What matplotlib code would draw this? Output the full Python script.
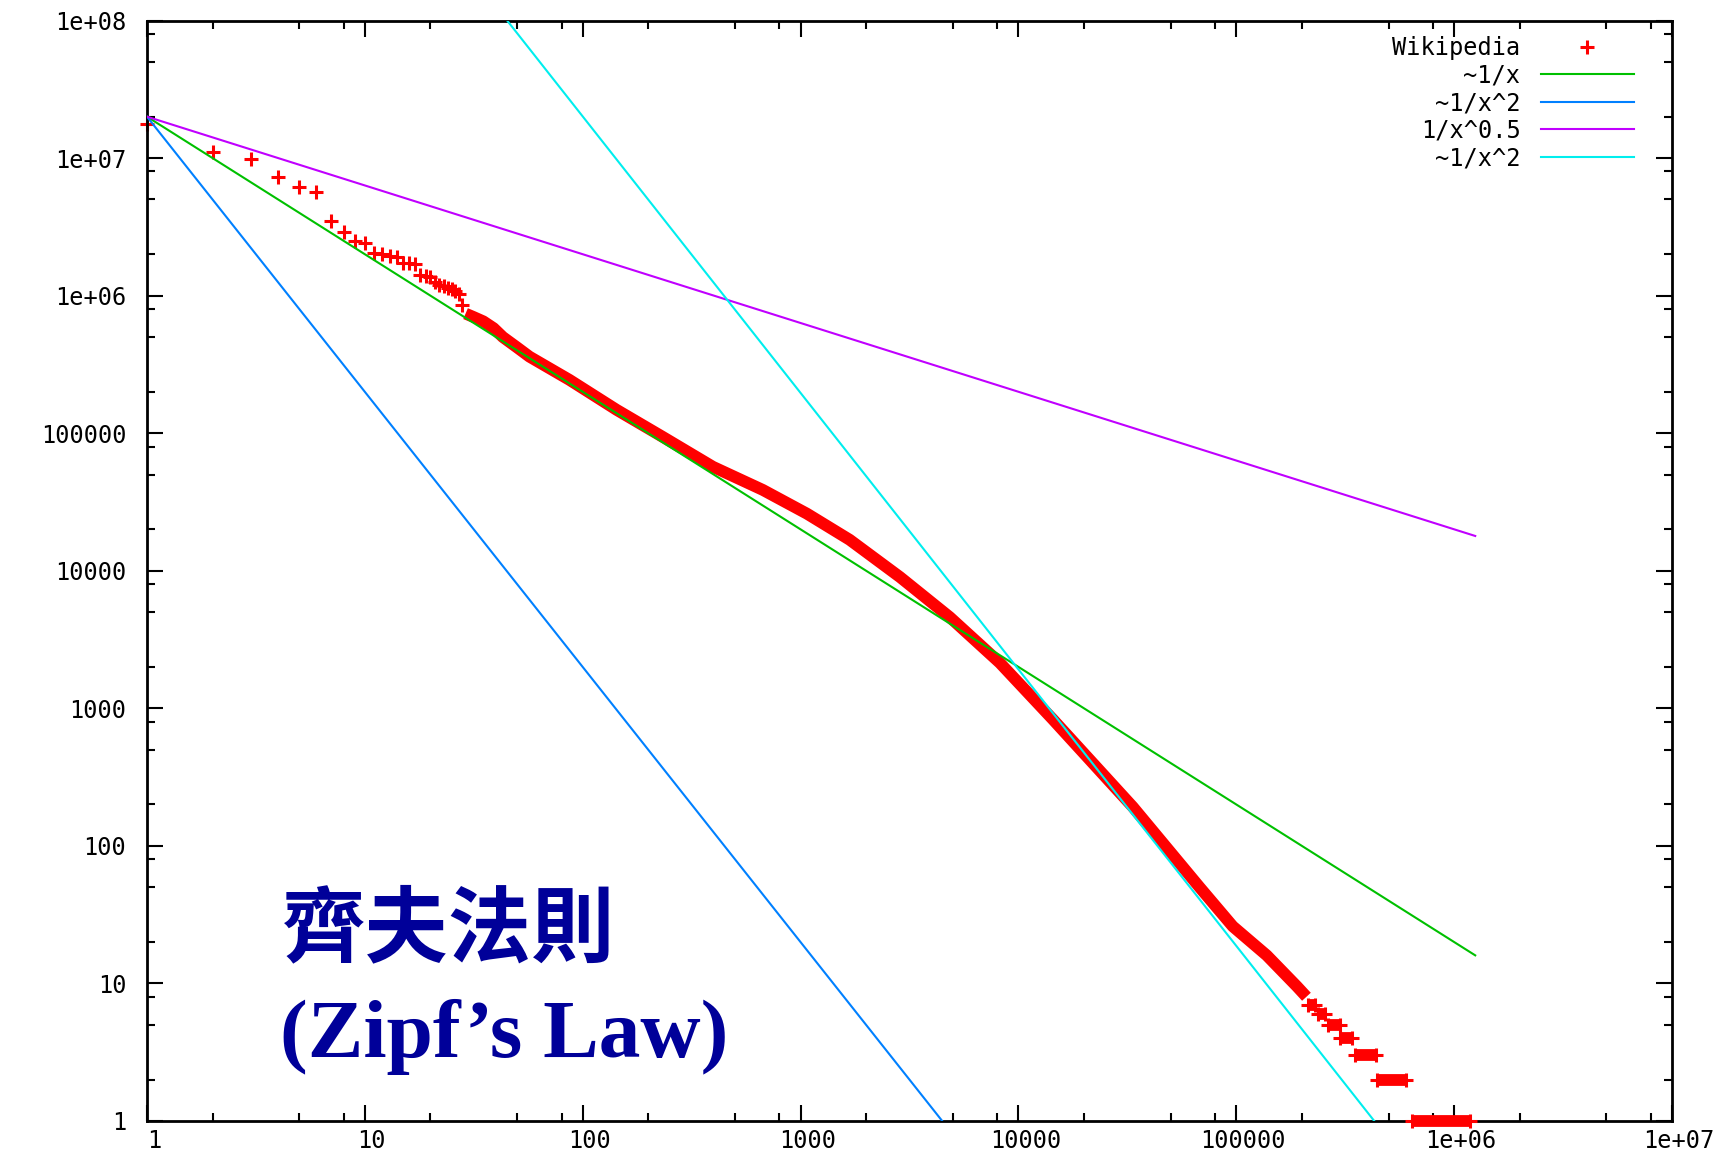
import matplotlib.pyplot as plt
import matplotlib.transforms as mtransforms
from matplotlib.ticker import LogLocator, NullFormatter

# word counts by rank; the first ranks are far enough apart to plot one by one
head_rank = [1, 2, 3, 4, 5, 6, 7, 8, 9, 10, 11, 12, 13, 14, 15, 16, 17, 18, 19, 20,
             21, 22, 23, 24, 25, 26, 27, 28]
head_freq = [1.76e7, 1.11e7, 9.8e6, 7.25e6, 6.2e6, 5.7e6, 3.5e6, 2.92e6, 2.5e6, 2.4e6,
             2.05e6, 2.0e6, 1.95e6, 1.9e6, 1.73e6, 1.72e6, 1.70e6, 1.42e6, 1.40e6, 1.36e6,
             1.25e6, 1.2e6, 1.17e6, 1.14e6, 1.12e6, 1.08e6, 1.02e6, 8.6e5]

# from here on the points are packed so tight they form a solid band
band_rank = [29, 31.5, 35, 39, 43, 50, 57, 87, 143, 233, 396, 671, 1070, 1680, 2860,
             4840, 8220, 14400, 33500, 67900, 96400, 138000, 190000, 210000]
band_freq = [7.4e5, 7.0e5, 6.5e5, 5.8e5, 5.0e5, 4.2e5, 3.6e5, 2.44e5, 1.48e5, 9.4e4,
             5.7e4, 3.87e4, 2.6e4, 1.68e4, 9.0e3, 4.6e3, 2.14e3, 830, 192, 50,
             26, 16, 9.5, 8]

# rare words: each count covers a run of ranks
tail_freq = [7, 6, 5, 4, 3, 2, 1]
tail_rank_from = [214e3, 237e3, 263e3, 300e3, 350e3, 442e3, 639e3]
tail_rank_to = [229e3, 255e3, 298e3, 340e3, 437e3, 600e3, 1.18e6]

# power laws for comparison (end points)
inv_x = ([1, 1.25e6], [2e7, 16])
inv_x2 = ([1, 4470], [2e7, 1])
inv_sqrt = ([1, 1.25e6], [2e7, 1.79e4])
inv_x2_shift = ([45, 4.3e5], [1e8, 1])

x_ticks = [1, 10, 100, 1000, 1e4, 1e5, 1e6, 1e7]
y_ticks = [1, 10, 100, 1000, 1e4, 1e5, 1e6, 1e7, 1e8]

tick_font = 'DejaVu Sans Mono'

fig = plt.figure(figsize=(17.31, 11.59), dpi=100)
ax = fig.add_axes([0.0849, 0.0328, 0.881, 0.9495])
ax.set_xscale('log')
ax.set_yscale('log')

red = '#ff0000'
wiki, = ax.plot(head_rank, head_freq, ls='none', marker='+', ms=10, mew=2.2,
                color=red, clip_on=False, zorder=2)
ax.plot(band_rank, band_freq, color=red, lw=8.5, solid_capstyle='butt',
        solid_joinstyle='round', zorder=2)
for f, r0, r1 in zip(tail_freq, tail_rank_from, tail_rank_to):
    ax.plot([r0, r1], [f, f], color=red, lw=8.5, solid_capstyle='butt',
            marker='+', ms=10, mew=2.2, clip_on=False, zorder=4)

l1, = ax.plot(*inv_x, color='#00c000', lw=1.5, zorder=3)
l2, = ax.plot(*inv_x2, color='#0080ff', lw=1.5, zorder=3)
l3, = ax.plot(*inv_sqrt, color='#c000ff', lw=1.5, zorder=3)
l4, = ax.plot(*inv_x2_shift, color='#00eeee', lw=1.5, zorder=3)

# gnuplot-like axes: ticks inside on all four sides, labels in %g style
for s in ax.spines.values():
    s.set_linewidth(2)
ax.set_xticks(x_ticks, ['%g' % v for v in x_ticks])
ax.set_yticks(y_ticks, ['%g' % v for v in y_ticks])
ax.xaxis.set_minor_locator(LogLocator(base=10, subs=(2, 5, 8), numticks=20))
ax.yaxis.set_minor_locator(LogLocator(base=10, subs=(2, 5, 8), numticks=20))
ax.xaxis.set_minor_formatter(NullFormatter())
ax.yaxis.set_minor_formatter(NullFormatter())
ax.set_xlim(1, 1e7)
ax.set_ylim(1, 1e8)
ax.tick_params(which='both', direction='in', top=True, right=True, width=1.5, color='black')
ax.tick_params(which='major', length=11.5)
ax.tick_params(which='minor', length=5.5)
ax.tick_params(axis='x', which='major', pad=6)
ax.tick_params(axis='y', which='major', pad=15)
for lab in ax.get_xticklabels() + ax.get_yticklabels():
    lab.set_fontfamily(tick_font)
    lab.set_fontsize(17)
shift = mtransforms.ScaledTranslation(7 / 100, 0, fig.dpi_scale_trans)
for lab in ax.get_xticklabels():
    lab.set_transform(lab.get_transform() + shift)

ax.legend([wiki, l1, l2, l3, l4],
          ['Wikipedia', '~1/x', '~1/x^2', '1/x^0.5', '~1/x^2'],
          loc='upper right', bbox_to_anchor=(0.9753, 0.986), frameon=False,
          markerfirst=False, borderpad=0, borderaxespad=0,
          handlelength=3.97, handletextpad=0.85, labelspacing=0.15,
          prop={'family': tick_font, 'size': 17})

navy = '#000099'
ax.text(0.0885, 0.1727, '齊夫法則', transform=ax.transAxes, fontsize=60, color=navy,
        family=['Noto Sans CJK TC', 'DejaVu Sans'], fontweight='bold', ha='left', va='center')
ax.text(0.0872, 0.0759, '(Zipf’s Law)', transform=ax.transAxes, fontsize=60, color=navy,
        family='Liberation Serif', fontweight='bold', ha='left', va='center')

fig.savefig('out.png', dpi=100, facecolor='white')
